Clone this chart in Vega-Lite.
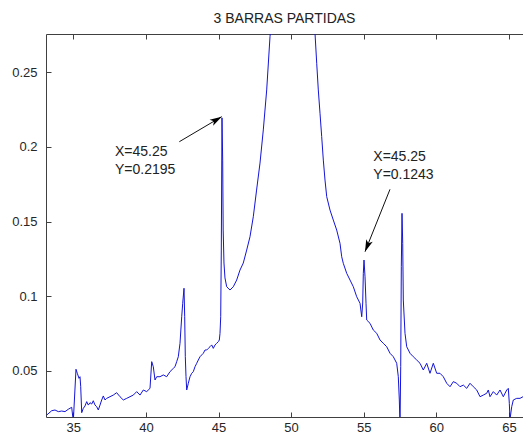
{
  "$schema": "https://vega.github.io/schema/vega-lite/v6.json",
  "width": 477,
  "height": 383,
  "autosize": {"type": "none"},
  "padding": {"left": 46, "top": 34, "right": 0, "bottom": 17},
  "background": "white",
  "title": {"text": "3 BARRAS PARTIDAS", "fontSize": 14, "fontWeight": "normal", "font": "Liberation Sans", "color": "#222222", "offset": 8},
  "config": {"view": {"stroke": null}},
  "datasets": {
    "spectrum": [
      {"f": 33.168, "a": 0.0203}, {"f": 33.513, "a": 0.0232}, {"f": 33.74, "a": 0.0237}, {"f": 33.967, "a": 0.0226},
      {"f": 34.201, "a": 0.0230}, {"f": 34.429, "a": 0.0226}, {"f": 34.656, "a": 0.0242}, {"f": 34.890, "a": 0.0255},
      {"f": 35.000, "a": 0.016}, {"f": 35.186, "a": 0.0510}, {"f": 35.276, "a": 0.0483}, {"f": 35.393, "a": 0.0449},
      {"f": 35.462, "a": 0.0460}, {"f": 35.510, "a": 0.0393}, {"f": 35.579, "a": 0.0219}, {"f": 35.689, "a": 0.0248},
      {"f": 35.806, "a": 0.0264}, {"f": 35.923, "a": 0.0293}, {"f": 36.033, "a": 0.0270}, {"f": 36.150, "a": 0.0286},
      {"f": 36.268, "a": 0.0277}, {"f": 36.378, "a": 0.0299}, {"f": 36.495, "a": 0.0270}, {"f": 36.612, "a": 0.0259},
      {"f": 36.722, "a": 0.0237}, {"f": 36.839, "a": 0.0270}, {"f": 36.956, "a": 0.0304}, {"f": 37.067, "a": 0.0331},
      {"f": 37.184, "a": 0.0304}, {"f": 37.301, "a": 0.0315}, {"f": 37.528, "a": 0.0326}, {"f": 37.755, "a": 0.0337},
      {"f": 37.985, "a": 0.0353}, {"f": 38.217, "a": 0.0326}, {"f": 38.444, "a": 0.0304}, {"f": 38.678, "a": 0.0315},
      {"f": 38.905, "a": 0.0326}, {"f": 39.133, "a": 0.0337}, {"f": 39.367, "a": 0.0360}, {"f": 39.594, "a": 0.0337},
      {"f": 39.821, "a": 0.0371}, {"f": 40.055, "a": 0.0360}, {"f": 40.283, "a": 0.0382}, {"f": 40.400, "a": 0.0561},
      {"f": 40.510, "a": 0.0527}, {"f": 40.627, "a": 0.0438}, {"f": 40.744, "a": 0.0460}, {"f": 40.971, "a": 0.0460},
      {"f": 41.198, "a": 0.0472}, {"f": 41.432, "a": 0.0460}, {"f": 41.660, "a": 0.0494}, {"f": 41.887, "a": 0.0516},
      {"f": 42.004, "a": 0.0527}, {"f": 42.121, "a": 0.0561}, {"f": 42.232, "a": 0.0594}, {"f": 42.349, "a": 0.0684},
      {"f": 42.466, "a": 0.0862}, {"f": 42.535, "a": 0.0952}, {"f": 42.624, "a": 0.1053}, {"f": 42.672, "a": 0.0862},
      {"f": 42.714, "a": 0.0594}, {"f": 42.762, "a": 0.0460}, {"f": 42.810, "a": 0.0371}, {"f": 42.921, "a": 0.0416},
      {"f": 43.038, "a": 0.0460}, {"f": 43.155, "a": 0.0483}, {"f": 43.265, "a": 0.0494}, {"f": 43.382, "a": 0.0527},
      {"f": 43.499, "a": 0.0550}, {"f": 43.609, "a": 0.0572}, {"f": 43.726, "a": 0.0594}, {"f": 43.844, "a": 0.0606},
      {"f": 43.954, "a": 0.0617}, {"f": 44.071, "a": 0.0639}, {"f": 44.188, "a": 0.0639}, {"f": 44.298, "a": 0.0650},
      {"f": 44.415, "a": 0.0661}, {"f": 44.532, "a": 0.0673}, {"f": 44.642, "a": 0.0650}, {"f": 44.760, "a": 0.0673},
      {"f": 44.877, "a": 0.0684}, {"f": 44.987, "a": 0.0695}, {"f": 45.056, "a": 0.0706}, {"f": 45.104, "a": 0.0751},
      {"f": 45.152, "a": 0.0862}, {"f": 45.193, "a": 0.1309}, {"f": 45.240, "a": 0.2195}, {"f": 45.288, "a": 0.1912},
      {"f": 45.322, "a": 0.1443}, {"f": 45.377, "a": 0.1222}, {"f": 45.446, "a": 0.1122}, {"f": 45.563, "a": 0.1063},
      {"f": 45.791, "a": 0.1041}, {"f": 46.018, "a": 0.1063}, {"f": 46.252, "a": 0.1108}, {"f": 46.480, "a": 0.1175},
      {"f": 46.707, "a": 0.1222}, {"f": 46.941, "a": 0.1309}, {"f": 47.168, "a": 0.1398}, {"f": 47.396, "a": 0.1532},
      {"f": 47.623, "a": 0.1711}, {"f": 47.858, "a": 0.1892}, {"f": 48.085, "a": 0.2114}, {"f": 48.319, "a": 0.2382},
      {"f": 48.547, "a": 0.2739}, {"f": 48.8, "a": 0.305}, {"f": 49.1, "a": 0.36}, {"f": 49.4, "a": 0.45},
      {"f": 49.7, "a": 0.6}, {"f": 50.0, "a": 0.8}, {"f": 50.3, "a": 0.62}, {"f": 50.6, "a": 0.48},
      {"f": 50.9, "a": 0.39}, {"f": 51.2, "a": 0.33}, {"f": 51.45, "a": 0.295},
      {"f": 51.646, "a": 0.2762}, {"f": 51.763, "a": 0.2561}, {"f": 51.873, "a": 0.2382}, {"f": 51.990, "a": 0.2226},
      {"f": 52.107, "a": 0.2069}, {"f": 52.218, "a": 0.1912}, {"f": 52.335, "a": 0.1778}, {"f": 52.452, "a": 0.1667},
      {"f": 52.679, "a": 0.1577}, {"f": 52.906, "a": 0.1510}, {"f": 53.140, "a": 0.1443}, {"f": 53.368, "a": 0.1354},
      {"f": 53.485, "a": 0.1264}, {"f": 53.595, "a": 0.1220}, {"f": 53.829, "a": 0.1153}, {"f": 54.057, "a": 0.1108},
      {"f": 54.284, "a": 0.1063}, {"f": 54.518, "a": 0.0996}, {"f": 54.746, "a": 0.0952}, {"f": 54.863, "a": 0.0862},
      {"f": 54.931, "a": 0.0954}, {"f": 54.973, "a": 0.1153}, {"f": 55.021, "a": 0.1242}, {"f": 55.090, "a": 0.1130},
      {"f": 55.159, "a": 0.0952}, {"f": 55.207, "a": 0.0840}, {"f": 55.434, "a": 0.0818}, {"f": 55.661, "a": 0.0773},
      {"f": 55.896, "a": 0.0751}, {"f": 56.123, "a": 0.0706}, {"f": 56.350, "a": 0.0684}, {"f": 56.584, "a": 0.0661},
      {"f": 56.812, "a": 0.0617}, {"f": 57.039, "a": 0.0594}, {"f": 57.156, "a": 0.0572}, {"f": 57.273, "a": 0.0550},
      {"f": 57.383, "a": 0.0460}, {"f": 57.452, "a": 0.0304}, {"f": 57.500, "a": 0.0136}, {"f": 57.548, "a": 0.0527},
      {"f": 57.590, "a": 0.1197}, {"f": 57.638, "a": 0.1555}, {"f": 57.686, "a": 0.1354}, {"f": 57.727, "a": 0.0974},
      {"f": 57.844, "a": 0.0751}, {"f": 57.961, "a": 0.0661}, {"f": 58.189, "a": 0.0617}, {"f": 58.416, "a": 0.0594},
      {"f": 58.650, "a": 0.0572}, {"f": 58.877, "a": 0.0550}, {"f": 59.105, "a": 0.0505}, {"f": 59.339, "a": 0.0550},
      {"f": 59.566, "a": 0.0483}, {"f": 59.793, "a": 0.0550}, {"f": 60.027, "a": 0.0483}, {"f": 60.255, "a": 0.0483},
      {"f": 60.482, "a": 0.0460}, {"f": 60.716, "a": 0.0416}, {"f": 60.944, "a": 0.0393}, {"f": 61.171, "a": 0.0427},
      {"f": 61.405, "a": 0.0416}, {"f": 61.632, "a": 0.0393}, {"f": 61.860, "a": 0.0404}, {"f": 62.094, "a": 0.0382},
      {"f": 62.321, "a": 0.0416}, {"f": 62.549, "a": 0.0393}, {"f": 62.783, "a": 0.0371}, {"f": 63.010, "a": 0.0326},
      {"f": 63.237, "a": 0.0337}, {"f": 63.471, "a": 0.0349}, {"f": 63.581, "a": 0.0371}, {"f": 63.698, "a": 0.0326},
      {"f": 63.926, "a": 0.0360}, {"f": 64.160, "a": 0.0337}, {"f": 64.387, "a": 0.0371}, {"f": 64.615, "a": 0.0326},
      {"f": 64.849, "a": 0.0371}, {"f": 64.959, "a": 0.0382}, {"f": 65.028, "a": 0.0282}, {"f": 65.076, "a": 0.0175},
      {"f": 65.193, "a": 0.0259}, {"f": 65.303, "a": 0.0304}, {"f": 65.537, "a": 0.0315}, {"f": 65.764, "a": 0.0315},
      {"f": 65.971, "a": 0.0326}, {"f": 66.25, "a": 0.0330}
    ],
    "notes": [
      {"f": 37.87, "a": 0.1968, "label": "X=45.25"},
      {"f": 37.87, "a": 0.1846, "label": "Y=0.2195"},
      {"f": 55.66, "a": 0.1935, "label": "X=45.25"},
      {"f": 55.66, "a": 0.1812, "label": "Y=0.1243"}
    ],
    "arrows": [
      {"id": 1, "f": 42.30, "a": 0.2035, "f2": 45.22, "a2": 0.2203},
      {"id": 2, "f": 56.81, "a": 0.1716, "f2": 55.09, "a2": 0.1298}
    ]
  },
  "resolve": {"axis": {"x": "independent"}},
  "layer": [
    {
      "data": {"name": "spectrum"},
      "mark": {"type": "line", "color": "#1414d8", "strokeWidth": 1, "clip": true},
      "encoding": {
        "x": {"field": "f", "type": "quantitative",
          "scale": {"domain": [33.12, 65.97], "nice": false, "zero": false},
          "axis": {"orient": "bottom", "title": null, "values": [35, 40, 45, 50, 55, 60, 65], "grid": false,
            "tickSize": -5, "labelPadding": 9, "domainColor": "#404040", "tickColor": "#404040",
            "labelColor": "#262626", "labelFont": "Liberation Sans", "labelFontSize": 13}},
        "y": {"field": "a", "type": "quantitative",
          "scale": {"domain": [0.019, 0.2757], "nice": false, "zero": false},
          "axis": {"title": null, "values": [0.05, 0.1, 0.15, 0.2, 0.25], "format": "~g", "grid": false,
            "tickSize": -5, "labelPadding": 14, "domainColor": "#404040", "tickColor": "#404040",
            "labelColor": "#262626", "labelFont": "Liberation Sans", "labelFontSize": 13}}
      }
    },
    {
      "data": {"name": "arrows"},
      "mark": {"type": "rule", "color": "#111111", "strokeWidth": 1},
      "encoding": {
        "x": {"field": "f", "type": "quantitative",
          "axis": {"orient": "top", "title": null, "labels": false, "values": [35, 40, 45, 50, 55, 60, 65], "grid": false,
            "tickSize": -5, "domainColor": "#404040", "tickColor": "#404040"}},
        "y": {"field": "a", "type": "quantitative"},
        "x2": {"field": "f2"},
        "y2": {"field": "a2"}
      }
    },
    {
      "data": {"name": "arrows"},
      "transform": [{"filter": "datum.id == 1"}],
      "mark": {"type": "point", "shape": "M0,0 L-0.35,1.2 L0,0.9 L0.35,1.2 Z", "size": 400, "filled": true, "color": "#000000", "opacity": 1, "angle": 59.5},
      "encoding": {
        "x": {"field": "f2", "type": "quantitative", "axis": null},
        "y": {"field": "a2", "type": "quantitative"}
      }
    },
    {
      "data": {"name": "arrows"},
      "transform": [{"filter": "datum.id == 2"}],
      "mark": {"type": "point", "shape": "M0,0 L-0.35,1.2 L0,0.9 L0.35,1.2 Z", "size": 400, "filled": true, "color": "#000000", "opacity": 1, "angle": 201.8},
      "encoding": {
        "x": {"field": "f2", "type": "quantitative", "axis": null},
        "y": {"field": "a2", "type": "quantitative"}
      }
    },
    {
      "data": {"name": "notes"},
      "mark": {"type": "text", "align": "left", "baseline": "middle", "font": "Liberation Sans", "fontSize": 14, "color": "#222222"},
      "encoding": {
        "x": {"field": "f", "type": "quantitative", "axis": null},
        "y": {"field": "a", "type": "quantitative"},
        "text": {"field": "label"}
      }
    }
  ]
}
